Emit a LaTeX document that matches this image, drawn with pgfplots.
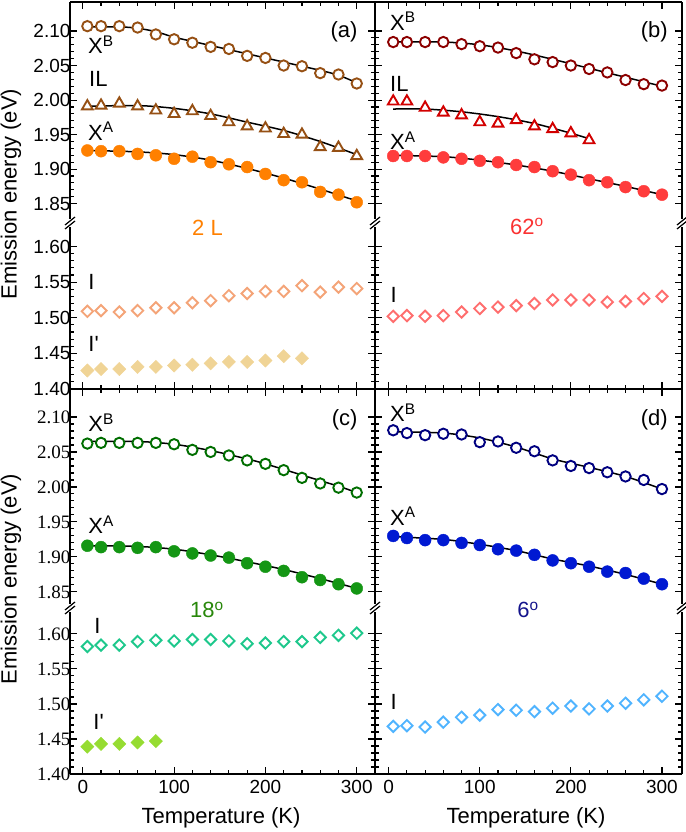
\documentclass[border=0pt]{standalone}
\usepackage{pgfplots}
\pgfplotsset{compat=1.18}
\usepackage{fontspec}
\setmainfont{Liberation Sans}
\newfontfamily\serifnum{Liberation Serif}

\definecolor{aB}{RGB}{150,80,20}
\definecolor{aA}{RGB}{255,128,0}
\definecolor{aI}{RGB}{244,164,120}
\definecolor{aIp}{RGB}{240,212,150}
\definecolor{bB}{RGB}{140,0,0}
\definecolor{bIL}{RGB}{210,0,0}
\definecolor{bA}{RGB}{255,60,60}
\definecolor{bT}{RGB}{250,50,50}
\definecolor{bI}{RGB}{255,110,110}
\definecolor{cB}{RGB}{0,110,0}
\definecolor{cA}{RGB}{20,150,20}
\definecolor{cT}{RGB}{40,135,10}
\definecolor{cI}{RGB}{30,200,140}
\definecolor{cIp}{RGB}{150,220,50}
\definecolor{dB}{RGB}{0,0,128}
\definecolor{dA}{RGB}{0,25,210}
\definecolor{dT}{RGB}{20,20,140}
\definecolor{dI}{RGB}{80,180,255}

\tikzset{lab/.style={anchor=base west, inner sep=0pt, font=\fontsize{22}{24}\selectfont}}

\pgfplotsset{
  panel/.style={scale only axis, clip=false, axis line style={draw=none},
    tick align=inside, major tick length=7pt, minor tick length=4pt,
    every tick/.append style={black, line width=1.1pt},
    xtick={0,100,200,300}, minor x tick num=4, minor y tick num=4,
    tick label style={font=\fontsize{19}{22}\selectfont},
    xticklabels={}},
  L/.style={width=305pt, xmin=-14, xmax=320,
    yticklabel style={xshift=4pt, /pgf/number format/fixed, /pgf/number format/fixed zerofill, /pgf/number format/precision=2, /pgf/number format/assume math mode=true}},
  R/.style={width=307pt, xmin=-15, xmax=322, yticklabels={}},
  up1/.style={height=221pt, ymin=1.822, ymax=2.142, ytick={1.85,1.9,1.95,2,2.05,2.1}, xtick pos=right},
  lo1/.style={height=166pt, ymin=1.40, ymax=1.633, ytick={1.4,1.45,1.5,1.55,1.6}, xtick pos=left},
  up2/.style={height=219pt, ymin=1.827, ymax=2.140, ytick={1.85,1.9,1.95,2,2.05,2.1}, xtick pos=right},
  lo2/.style={height=166pt, ymin=1.40, ymax=1.637, ytick={1.4,1.45,1.5,1.55,1.6}, xtick pos=left},
  xlab/.style={xticklabels={0,100,200,300}, xticklabel style={yshift=-3pt, /pgf/number format/assume math mode=true}},
  serifticks/.style={yticklabel style={/tikz/font=\fontsize{19}{22}\serifnum}},
  oc/.style={only marks, mark=*, mark size=5.2pt, mark options={draw=#1, fill=white, line width=1.9pt}},
  fc/.style={only marks, mark=*, mark size=6pt, mark options={draw=#1, fill=#1}},
  ot/.style={only marks, mark=triangle*, mark size=6.2pt, mark options={draw=#1, fill=white, line width=1.9pt}},
  od/.style={only marks, mark=square*, mark size=4pt, mark options={draw=#1, fill=white, line width=1.9pt, rotate=45}},
  fd/.style={only marks, mark=square*, mark size=4.7pt, mark options={draw=#1, fill=#1, rotate=45}},
  fit/.style={black, line width=1.5pt, smooth, no marks},
}

\begin{document}
\begin{tikzpicture}[x=1pt,y=1pt]
% ---------- (a) upper ----------
\begin{axis}[panel, L, up1, at={(70pt,551pt)}, anchor=south west]
\addplot[fit] coordinates {(5,2.106)(40,2.106)(60,2.104)(80,2.099)(100,2.091)(120,2.085)(140,2.079)(160,2.073)(180,2.067)(200,2.061)(220,2.055)(240,2.049)(260,2.043)(280,2.036)(300,2.025)};
\addplot[fit] coordinates {(5,1.991)(60,1.992)(100,1.988)(140,1.980)(180,1.968)(220,1.956)(260,1.940)(300,1.921)};
\addplot[fit] coordinates {(5,1.927)(60,1.925)(100,1.921)(140,1.913)(180,1.901)(220,1.887)(260,1.871)(300,1.854)};
\addplot[oc=aB] coordinates {(5,2.107)(20,2.107)(40,2.107)(60,2.105)(80,2.095)(100,2.088)(120,2.083)(140,2.077)(160,2.074)(180,2.064)(200,2.061)(220,2.050)(240,2.049)(260,2.039)(280,2.037)(300,2.024)};
\addplot[ot=aB] coordinates {(5,1.991)(20,1.992)(40,1.995)(60,1.991)(80,1.985)(100,1.980)(120,1.984)(140,1.977)(160,1.968)(180,1.962)(200,1.959)(220,1.951)(240,1.950)(260,1.932)(280,1.931)(300,1.919)};
\addplot[fc=aA] coordinates {(5,1.927)(20,1.926)(40,1.926)(60,1.922)(80,1.920)(100,1.915)(120,1.918)(140,1.910)(160,1.907)(180,1.903)(200,1.893)(220,1.884)(240,1.881)(260,1.867)(280,1.863)(300,1.852)};
\node[lab] at (axis cs:5.7,2.067) {X\textsuperscript{B}};
\node[lab] at (axis cs:6.8,2.019) {IL};
\node[lab] at (axis cs:5.7,1.942) {X\textsuperscript{A}};
\node[lab, anchor=base east] at (axis cs:301,2.090) {(a)};
\end{axis}
% ---------- (a) lower ----------
\begin{axis}[panel, L, lo1, at={(70pt,385pt)}, anchor=south west]
\addplot[od=aI] coordinates {(5,1.509)(20,1.510)(40,1.508)(60,1.510)(80,1.514)(100,1.514)(120,1.521)(140,1.524)(160,1.531)(180,1.534)(200,1.537)(220,1.537)(240,1.545)(260,1.536)(280,1.543)(300,1.541)};
\addplot[fd=aIp] coordinates {(5,1.426)(20,1.428)(40,1.428)(60,1.431)(80,1.431)(100,1.433)(120,1.434)(140,1.436)(160,1.438)(180,1.438)(200,1.440)(220,1.446)(240,1.443)};
\node[lab, anchor=base, text=aA] at (axis cs:136.6,1.616) {2 L};
\node[lab] at (axis cs:6,1.539) {I};
\node[lab] at (axis cs:6,1.453) {I\textquotesingle};
\end{axis}
% ---------- (c) upper ----------
\begin{axis}[panel, L, up2, serifticks, at={(70pt,166pt)}, anchor=south west]
\addplot[fit] coordinates {(5,2.065)(60,2.065)(100,2.061)(140,2.052)(180,2.040)(200,2.033)(240,2.017)(280,2.001)(300,1.992)};
\addplot[fit] coordinates {(5,1.916)(60,1.915)(100,1.911)(140,1.903)(180,1.893)(220,1.882)(260,1.869)(300,1.855)};
\addplot[oc=cB] coordinates {(5,2.062)(20,2.063)(40,2.063)(60,2.063)(80,2.063)(100,2.061)(120,2.053)(140,2.050)(160,2.045)(180,2.038)(200,2.033)(220,2.024)(240,2.013)(260,2.005)(280,1.999)(300,1.992)};
\addplot[fc=cA] coordinates {(5,1.916)(20,1.914)(40,1.914)(60,1.913)(80,1.914)(100,1.908)(120,1.905)(140,1.902)(160,1.899)(180,1.891)(200,1.886)(220,1.880)(240,1.871)(260,1.867)(280,1.861)(300,1.855)};
\node[lab] at (axis cs:6,2.079) {X\textsuperscript{B}};
\node[lab] at (axis cs:6,1.933) {X\textsuperscript{A}};
\node[lab, anchor=base east] at (axis cs:301,2.088) {(c)};
\end{axis}
% ---------- (c) lower ----------
\begin{axis}[panel, L, lo2, xlab, serifticks, at={(70pt,0pt)}, anchor=south west]
\addplot[od=cI] coordinates {(5,1.582)(20,1.584)(40,1.584)(60,1.589)(80,1.591)(100,1.590)(120,1.592)(140,1.592)(160,1.590)(180,1.586)(200,1.587)(220,1.589)(240,1.589)(260,1.595)(280,1.598)(300,1.601)};
\addplot[fd=cIp] coordinates {(5,1.439)(20,1.443)(40,1.443)(60,1.445)(80,1.447)};
\node[lab, anchor=base, text=cT] at (axis cs:136,1.623) {18\textsuperscript{o}};
\node[lab] at (axis cs:12.6,1.600) {I};
\node[lab] at (axis cs:11.5,1.464) {I\textquotesingle};
\end{axis}
% ---------- (b) upper ----------
\begin{axis}[panel, R, up1, at={(375pt,551pt)}, anchor=south west]
\addplot[fit] coordinates {(5,2.084)(60,2.084)(100,2.080)(140,2.071)(180,2.059)(220,2.046)(260,2.033)(300,2.020)};
\addplot[fit] coordinates {(5,1.987)(40,1.987)(80,1.983)(120,1.976)(160,1.966)(200,1.952)(220,1.944)};
\addplot[fit] coordinates {(5,1.920)(60,1.918)(100,1.913)(140,1.906)(180,1.897)(220,1.886)(260,1.875)(300,1.863)};
\addplot[oc=bB] coordinates {(5,2.084)(20,2.084)(40,2.084)(60,2.084)(80,2.081)(100,2.078)(120,2.076)(140,2.068)(160,2.059)(180,2.055)(200,2.050)(220,2.045)(240,2.040)(260,2.029)(280,2.023)(300,2.021)};
\addplot[ot=bIL] coordinates {(5,1.998)(20,1.998)(40,1.989)(60,1.982)(80,1.978)(100,1.968)(120,1.966)(140,1.971)(160,1.962)(180,1.958)(200,1.952)(220,1.942)};
\addplot[fc=bA] coordinates {(5,1.919)(20,1.919)(40,1.919)(60,1.917)(80,1.915)(100,1.912)(120,1.910)(140,1.906)(160,1.903)(180,1.897)(200,1.892)(220,1.884)(240,1.881)(260,1.874)(280,1.868)(300,1.863)};
\node[lab] at (axis cs:1.4,2.101) {X\textsuperscript{B}};
\node[lab] at (axis cs:1.4,2.013) {IL};
\node[lab] at (axis cs:1.4,1.928) {X\textsuperscript{A}};
\node[lab, anchor=base east] at (axis cs:306.6,2.090) {(b)};
\end{axis}
% ---------- (b) lower ----------
\begin{axis}[panel, R, lo1, at={(375pt,385pt)}, anchor=south west]
\addplot[od=bI] coordinates {(5,1.502)(20,1.503)(40,1.502)(60,1.503)(80,1.508)(100,1.513)(120,1.515)(140,1.517)(160,1.520)(180,1.525)(200,1.525)(220,1.525)(240,1.522)(260,1.523)(280,1.527)(300,1.530)};
\node[lab, anchor=base, text=bT] at (axis cs:151.8,1.617) {62\textsuperscript{o}};
\node[lab] at (axis cs:2,1.521) {I};
\end{axis}
% ---------- (d) upper ----------
\begin{axis}[panel, R, up2, at={(375pt,166pt)}, anchor=south west]
\addplot[fit] coordinates {(5,2.079)(60,2.077)(100,2.070)(140,2.057)(180,2.040)(220,2.028)(260,2.015)(300,1.997)};
\addplot[fit] coordinates {(5,1.929)(60,1.925)(100,1.918)(140,1.909)(180,1.897)(220,1.887)(260,1.875)(300,1.861)};
\addplot[oc=dB] coordinates {(5,2.081)(20,2.077)(40,2.074)(60,2.076)(80,2.075)(100,2.064)(120,2.065)(140,2.056)(160,2.051)(180,2.038)(200,2.030)(220,2.027)(240,2.021)(260,2.015)(280,2.010)(300,1.997)};
\addplot[fc=dA] coordinates {(5,1.930)(20,1.927)(40,1.924)(60,1.924)(80,1.920)(100,1.917)(120,1.911)(140,1.909)(160,1.903)(180,1.895)(200,1.891)(220,1.886)(240,1.879)(260,1.877)(280,1.869)(300,1.861)};
\node[lab] at (axis cs:1.4,2.093) {X\textsuperscript{B}};
\node[lab] at (axis cs:1.4,1.945) {X\textsuperscript{A}};
\node[lab, anchor=base east] at (axis cs:306.6,2.088) {(d)};
\end{axis}
% ---------- (d) lower ----------
\begin{axis}[panel, R, lo2, xlab, at={(375pt,0pt)}, anchor=south west]
\addplot[od=dI] coordinates {(5,1.468)(20,1.469)(40,1.467)(60,1.474)(80,1.481)(100,1.484)(120,1.492)(140,1.491)(160,1.489)(180,1.494)(200,1.497)(220,1.493)(240,1.497)(260,1.501)(280,1.506)(300,1.511)};
\node[lab, anchor=base, text=dT] at (axis cs:153,1.623) {6\textsuperscript{o}};
\node[lab] at (axis cs:2,1.492) {I};
\end{axis}
% ---------- frame and axis breaks ----------
\begin{scope}[line width=1.5pt]
\draw (70,772)--(682,772);
\draw (70,385)--(682,385);
\draw (70,0)--(682,0);
\foreach \X in {70,375,682}{
  \draw (\X,772)--(\X,555);
  \draw (\X,547)--(\X,385);
  \draw (\X,385)--(\X,170);
  \draw (\X,162)--(\X,0);
  \draw[line width=1.2pt] (\X-5,549)--(\X+5,557);
  \draw[line width=1.2pt] (\X-5,545)--(\X+5,553);
  \draw[line width=1.2pt] (\X-5,164)--(\X+5,172);
  \draw[line width=1.2pt] (\X-5,160)--(\X+5,168);
}
\end{scope}
\node[rotate=90, font=\fontsize{22}{24}\selectfont] at (11,580) {Emission energy (eV)};
\node[rotate=90, font=\fontsize{22}{24}\selectfont] at (11,195) {Emission energy (eV)};
\node[font=\fontsize{22}{24}\selectfont] at (221,-44) {Temperature (K)};
\node[font=\fontsize{22}{24}\selectfont] at (526,-44) {Temperature (K)};
\pgfresetboundingbox
\path[use as bounding box] (0,-58) rectangle (685,774);
\end{tikzpicture}
\end{document}
